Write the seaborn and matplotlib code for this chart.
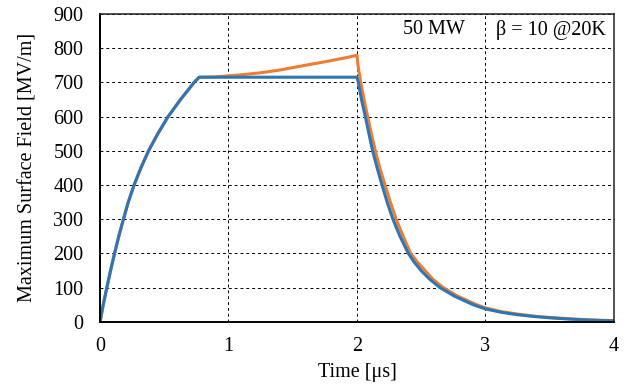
import matplotlib
matplotlib.use("Agg")
import matplotlib.pyplot as plt
import seaborn as sns
import pandas as pd

# Data (time in µs, field in MV/m)
t_rise = [0.0, 0.025, 0.053, 0.082, 0.113, 0.146, 0.182, 0.22, 0.265, 0.318, 0.378, 0.45, 0.53, 0.627, 0.733, 0.772]
v_rise = [0, 50, 100, 150, 200, 250, 300, 350, 400, 450, 500, 550, 600, 650, 700, 715]

t_blue_tail = [1.0, 1.5, 2.0, 2.010, 2.035, 2.065, 2.093, 2.122, 2.157, 2.195, 2.235, 2.28, 2.335, 2.40,
               2.445, 2.499, 2.565, 2.647, 2.76, 2.906, 3.0, 3.125, 3.25, 3.375, 3.5, 3.625, 3.75, 3.875, 4.0]
v_blue_tail = [715, 715, 715, 700, 650, 600, 550, 500, 450, 400, 350, 300, 250, 200,
               175, 150, 125, 100, 75, 50, 38, 28, 21, 16, 12, 9, 6.5, 4.5, 3]

t_orange_tail = [0.9, 1.0, 1.1, 1.25, 1.4, 1.5, 1.6, 1.75, 1.9, 2.0, 2.008, 2.029, 2.055, 2.083, 2.112, 2.143,
                 2.178, 2.218, 2.26, 2.305, 2.36, 2.418, 2.47, 2.53, 2.59, 2.673, 2.785, 2.933, 3.0, 3.125,
                 3.25, 3.375, 3.5, 3.625, 3.75, 3.875, 4.0]
v_orange_tail = [716, 719, 722, 728, 736, 743, 750, 760, 771, 779, 750, 700, 650, 600, 550, 500,
                 450, 400, 350, 300, 250, 200, 175, 150, 125, 100, 75, 50, 41, 30,
                 23, 17, 13, 10, 7, 5, 4]

x_ticks = [0, 1, 2, 3, 4]
y_ticks = [0, 100, 200, 300, 400, 500, 600, 700, 800, 900]

blue = pd.DataFrame({"t": t_rise + t_blue_tail, "v": v_rise + v_blue_tail})
orange = pd.DataFrame({"t": t_rise + t_orange_tail, "v": v_rise + v_orange_tail})

sns.set_theme(style="white")
plt.rcParams["font.family"] = ["Liberation Serif", "DejaVu Serif"]

fig = plt.figure(figsize=(6.29, 3.86), dpi=100)
ax = fig.add_axes([0.159, 0.166, 0.817, 0.798])

sns.lineplot(data=orange, x="t", y="v", ax=ax, color="#ED7D31", linewidth=2.2,
             sort=False, estimator=None, solid_joinstyle="round")
sns.lineplot(data=blue, x="t", y="v", ax=ax, color="#2E75B6", linewidth=2.2,
             sort=False, estimator=None, solid_joinstyle="round")

ax.set_xlim(0, 4)
ax.set_ylim(0, 900)
ax.set_xticks(x_ticks)
ax.set_yticks(y_ticks)
ax.tick_params(axis="both", length=0, labelsize=14.5, colors="black")
ax.tick_params(axis="y", pad=12)
ax.tick_params(axis="x", pad=11)

ax.grid(True, color="black", linestyle=(0, (3, 3)), linewidth=0.7)
ax.set_axisbelow(True)

for s in ["left", "bottom"]:
    ax.spines[s].set_color("black")
    ax.spines[s].set_linewidth(1.4)
for s in ["top", "right"]:
    ax.spines[s].set_color("#222222")
    ax.spines[s].set_linewidth(1.1)

ax.set_xlabel("Time [μs]", fontsize=14.5, color="black", labelpad=5)
ax.set_ylabel("Maximum Surface Field [MV/m]", fontsize=14.5, color="black", labelpad=11)

ax.text(2.84, 853, "50 MW", ha="right", va="center", fontsize=14.5, color="black")
ax.text(3.935, 853, "β = 10 @20K", ha="right", va="center", fontsize=14.5, color="black")

fig.savefig("out.png", dpi=100)
